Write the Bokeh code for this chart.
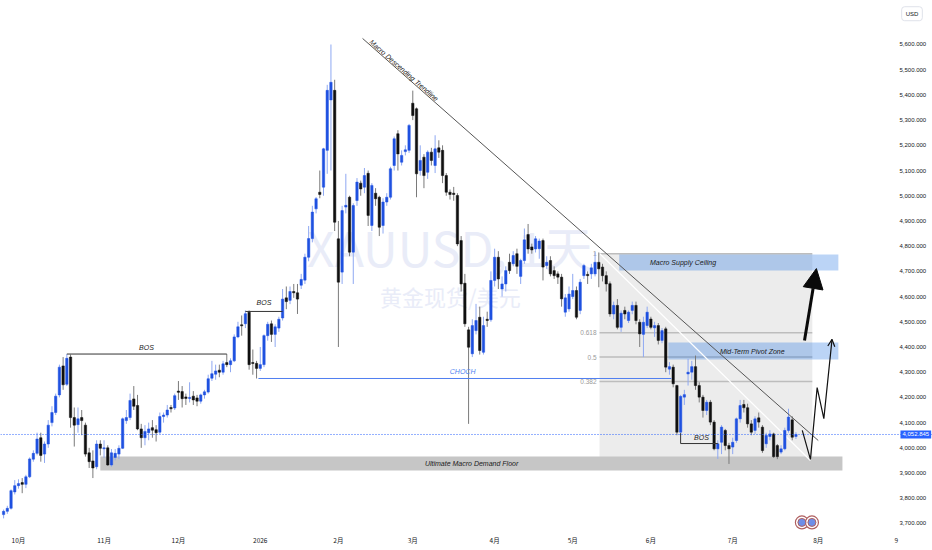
from bokeh.plotting import figure
from bokeh.models import Range1d, FixedTicker, NumeralTickFormatter, Span, Label, Arrow, NormalHead, OpenHead, ColumnDataSource
from bokeh.core.properties import value
from bokeh.embed import file_html
from bokeh.resources import INLINE

# ---------------- data (daily XAUUSD candles, trading-day index) ----------------
opens = [3735,3748,3760,3825,3850,3862,3855,3885,3955,3978,4040,3975,4015,4100,4140,4210,4325,4252,4360,4120,
         4092,4120,4090,3980,3948,3925,4015,3996,4000,3932,3962,3975,3998,4108,4120,4194,4168,4075,4040,4060,
         4080,4072,4062,4124,4130,4160,4158,4225,4223,4202,4196,4205,4198,4185,4210,4221,4276,4292,4308,4300,
         4338,4330,4345,4440,4488,4492,4538,4338,4335,4315,4330,4445,4492,4450,4475,4515,4595,4585,4620,4615,
         4645,4665,4756,4830,4948,5014,5034,5180,5380,5418,4829,4697,4955,4994,4776,4981,5050,5034,5089,4882,
         5010,4994,4882,4975,4994,5120,5246,5133,5175,5180,5367,5345,5100,5153,5093,5173,5120,5190,5180,5080,
         5014,5010,5001,4822,4653,4468,4373,4465,4518,4379,4510,4508,4664,4756,4630,4650,4736,4730,4770,4680,
         4743,4846,4797,4789,4790,4822,4723,4743,4703,4690,4677,4538,4551,4600,4624,4545,4683,4688,4690,4690,
         4736,4717,4683,4651,4531,4565,4478,4545,4505,4545,4565,4498,4450,4485,4511,4476,4485,4426,4472,4312,
         4320,4247,4062,4201,4293,4300,4322,4247,4201,4148,4181,4102,3996,4022,4069,4009,4003,4029,4115,4172,
         4159,4095,4069,4119,4082,4016,4045,4055,4009,3983,3996,4069,4111,4045]
highs = [3755,3770,3835,3872,3875,3880,3893,3962,3990,4060,4060,4025,4110,4165,4215,4330,4360,4372,4370,4160,
         4160,4150,4100,4000,3990,4030,4030,4030,4010,3995,3995,4010,4120,4150,4215,4245,4210,4095,4090,4100,
         4110,4090,4140,4140,4170,4170,4215,4265,4245,4215,4260,4225,4210,4215,4230,4290,4345,4330,4330,4345,
         4372,4355,4450,4500,4525,4545,4545,4390,4345,4400,4450,4500,4505,4490,4520,4630,4640,4640,4650,4650,
         4690,4770,4880,4960,4995,5100,5190,5440,5600,5460,4900,4960,5087,5000,4970,5070,5060,5110,5100,5050,
         5030,5000,4990,5010,5115,5235,5260,5180,5200,5285,5417,5350,5200,5165,5180,5190,5240,5220,5200,5090,
         5025,5035,5010,4840,4690,4480,4510,4571,4560,4520,4540,4700,4790,4780,4680,4720,4770,4780,4790,4750,
         4870,4888,4810,4840,4830,4830,4760,4760,4720,4700,4690,4610,4640,4690,4640,4670,4730,4700,4730,4776,
         4775,4730,4700,4660,4580,4590,4545,4560,4545,4580,4580,4510,4520,4560,4520,4500,4495,4475,4480,4340,
         4330,4250,4210,4230,4353,4345,4366,4260,4210,4190,4190,4110,4030,4090,4075,4020,4040,4120,4190,4190,
         4175,4110,4125,4140,4090,4060,4070,4060,4015,4010,4080,4155,4125,4062]
lows = [3720,3738,3755,3815,3838,3820,3840,3880,3945,3970,3945,3940,4000,4085,4130,4200,4230,4245,4080,4005,
        4060,4050,3965,3920,3880,3915,3970,3960,3928,3925,3950,3955,3995,4095,4110,4150,4070,4000,4010,4030,
        4040,4025,4055,4100,4120,4140,4150,4190,4160,4170,4180,4170,4165,4175,4195,4215,4265,4270,4280,4290,
        4320,4300,4340,4435,4445,4475,4310,4290,4275,4305,4320,4425,4420,4400,4460,4505,4550,4570,4595,4531,
        4630,4650,4740,4815,4930,4990,5000,5087,5100,4860,4400,4650,4930,4760,4650,4960,5000,5010,4880,4860,
        4960,4840,4850,4960,4985,5100,5100,5120,5160,5170,5300,4994,5080,5030,5067,5120,5090,5150,5050,5000,
        4985,4980,4800,4620,4480,4095,4360,4450,4370,4370,4480,4500,4640,4630,4600,4620,4690,4720,4690,4650,
        4730,4770,4770,4775,4750,4664,4710,4680,4670,4650,4560,4520,4540,4590,4510,4530,4670,4650,4670,4680,
        4637,4660,4620,4520,4510,4470,4460,4510,4495,4530,4490,4400,4360,4475,4470,4440,4410,4415,4300,4290,
        4240,4050,4050,4170,4247,4270,4230,4180,4120,4130,4090,3990,3956,3975,3990,3936,3975,4020,4100,4140,
        4080,4050,4055,4080,3980,4000,4030,3960,3955,3975,3990,4060,4030,4035]
closes = [3748,3760,3830,3850,3858,3855,3885,3956,3978,4035,3970,4015,4090,4140,4205,4320,4250,4355,4120,4090,
          4115,4108,3975,3945,3920,4015,3998,4000,3932,3980,3978,3998,4115,4120,4188,4165,4075,4040,4065,4075,
          4070,4060,4124,4130,4150,4155,4207,4220,4195,4196,4200,4190,4185,4210,4222,4274,4294,4305,4300,4333,
          4330,4345,4440,4480,4484,4532,4330,4335,4315,4330,4445,4490,4450,4480,4510,4590,4580,4620,4615,4590,
          4668,4756,4830,4935,4988,5005,5186,5418,5450,4895,4657,4941,4962,4776,4961,5054,5027,5080,4922,5041,
          4988,4875,4975,4994,5107,5226,5166,5160,5182,5279,5318,5087,5140,5080,5173,5140,5186,5173,5080,5014,
          5005,5005,4809,4650,4492,4399,4485,4505,4386,4485,4505,4664,4756,4670,4650,4703,4703,4763,4720,4743,
          4825,4789,4785,4829,4820,4717,4736,4690,4683,4677,4591,4595,4610,4624,4518,4657,4723,4683,4714,4736,
          4710,4683,4650,4531,4565,4478,4534,4531,4538,4565,4505,4452,4498,4538,4478,4485,4426,4465,4320,4322,
          4254,4062,4204,4211,4300,4322,4247,4201,4148,4181,4102,3996,4016,4082,4009,3996,4022,4115,4168,4159,
          4095,4062,4115,4102,3989,4049,4055,3965,3965,3996,4069,4122,4042,4053]

month_ticks = [4, 27, 47, 69, 90, 110, 132, 153, 174, 196, 219, 240]
month_labels = ["10月", "11月", "12月", "2026", "2月", "3月", "4月", "5月", "6月", "7月", "8月", "9"]
price_ticks = list(range(3700, 5601, 100))
last_price = 4052.845

# annotation levels (index, price)
trend_x = [96.5, 219.0]
trend_y = [5624, 4029]
inner_x = [160.2, 216.9]
inner_y = [4771, 3950]
fib_x = (160.2, 217.4)
fib_high, fib_low = 4770, 3950
fib_ratios = [1, 0.618, 0.5, 0.382, 0]
fib_names = ["1", "0.618", "0.5", "0.382", "0"]
supply_zone = (165.5, 224.4, 4703, 4767)
pivot_zone = (178.7, 224.4, 4350, 4418)
demand_zone = (26.0, 225.5, 3910, 3966)
bos1 = ([17, 60], [4372, 4372], (38.4, 4398))
bos2 = ([65, 75], [4541, 4541], (70.0, 4577))
bos3 = ([182, 182, 192], [4058, 4017, 4017], (187.6, 4041))
choch = ([68.5, 179.5], [4275, 4275], (123.4, 4303))
proj_x = [214.7, 216.9, 218.7, 220.5, 222.7]
proj_y = [4069, 3954, 4239, 4116, 4430]
big_arrow = (215.3, 4426, 218.5, 4711)

# ---------------- figure ----------------
p = figure(width=932, height=550, output_backend="svg", toolbar_location=None,
           x_range=Range1d(-0.833, 249.71), y_range=Range1d(3672, 5774.5),
           y_axis_location="right", min_border_left=0, min_border_top=0,
           min_border_right=0, min_border_bottom=20)
p.grid.visible = False
p.outline_line_color = None
p.background_fill_color = "white"

# watermark
p.text(x=[119.9], y=[4799], text=["XAUUSD, 1天"], text_font=value("Noto Sans CJK SC"),
       text_font_size="48px", text_color="#e9ecf8", text_align="center", text_baseline="middle", level="underlay")
p.text(x=[120.1], y=[4604], text=["黄金现货/美元"], text_font=value("Noto Sans CJK SC"),
       text_font_size="22px", text_color="#e9ecf8", text_align="center", text_baseline="middle", level="underlay")

# fib box
p.quad(left=[fib_x[0]], right=[fib_x[1]], bottom=[fib_low], top=[fib_high],
       fill_color="#ececec", line_color=None)
fib_levels = [fib_low + r * (fib_high - fib_low) for r in fib_ratios]
p.segment(x0=[fib_x[0]] * 5, x1=[fib_x[1]] * 5, y0=fib_levels, y1=fib_levels,
          line_color="#bdbdbd", line_width=1.5)
p.text(x=[fib_x[0] - 0.8] * 5, y=fib_levels, text=fib_names, text_font=value("Liberation Sans"),
       text_font_size="6.5px", text_color="#9a9a9a", text_align="right", text_baseline="middle")

# zones
p.quad(left=[demand_zone[0]], right=[demand_zone[1]], bottom=[demand_zone[2]], top=[demand_zone[3]],
       fill_color="#c6c6c6", line_color=None)
for z in (supply_zone, pivot_zone):
    p.quad(left=[z[0]], right=[z[1]], bottom=[z[2]], top=[z[3]],
           fill_color="#1e6fe0", fill_alpha=0.3, line_color=None)

p.line(inner_x, inner_y, line_color="white", line_width=1.3)

# candles
n = len(closes)
idx = list(range(n))
up = [c >= o for o, c in zip(opens, closes)]
tops, bots = [], []
for o, c in zip(opens, closes):
    t, b = max(o, c), min(o, c)
    if t - b < 4:
        m = (t + b) / 2
        t, b = m + 2, m - 2
    tops.append(t)
    bots.append(b)
src = ColumnDataSource(dict(
    x=idx, h=highs, l=lows, t=tops, b=bots,
    body=["#1f51e0" if u else "#101010" for u in up],
    wick=["#8ea8f2" if u else "#7a7a7a" for u in up]))
p.segment(x0="x", x1="x", y0="h", y1="l", line_color="wick", line_width=1, source=src)
p.vbar(x="x", width=0.64, top="t", bottom="b", fill_color="body", line_color="body", line_width=0.5, source=src)

# lines
p.line(trend_x, trend_y, line_color="#555555", line_width=1)
for seg in (bos1, bos2, bos3):
    p.line(seg[0], seg[1], line_color="#333333", line_width=1)
p.line(choch[0], choch[1], line_color="#4f7ff0", line_width=1)

p.line(proj_x, proj_y, line_color="#111111", line_width=1.2)
p.add_layout(Arrow(end=OpenHead(size=7, line_width=1.2, line_color="#111111"),
                   x_start=proj_x[-2], y_start=proj_y[-2], x_end=proj_x[-1], y_end=proj_y[-1],
                   line_width=0, line_alpha=0))
p.add_layout(Arrow(end=NormalHead(size=20, fill_color="#0a0a0a", line_color="#0a0a0a"),
                   x_start=big_arrow[0], y_start=big_arrow[1], x_end=big_arrow[2], y_end=big_arrow[3],
                   line_width=3, line_color="#0a0a0a"))

p.add_layout(Span(location=last_price, dimension="width", line_color="#2962ff",
                  line_dash="1 2", line_width=1))

# texts
ital = dict(text_font=value("Liberation Sans"), text_font_style="italic", text_font_size="7px",
            text_color="#1a1a1a", text_align="center", text_baseline="middle")
p.text(x=[(supply_zone[0] + supply_zone[1]) / 2 - 12.3], y=[(supply_zone[2] + supply_zone[3]) / 2],
       text=["Macro Supply Ceiling"], **ital)
p.text(x=[(pivot_zone[0] + pivot_zone[1]) / 2 - 0.3], y=[(pivot_zone[2] + pivot_zone[3]) / 2],
       text=["Mid-Term Pivot Zone"], **ital)
p.text(x=[125.8], y=[(demand_zone[2] + demand_zone[3]) / 2], text=["Ultimate Macro Demand Floor"], **ital)
for seg in (bos1, bos2, bos3):
    p.text(x=[seg[2][0]], y=[seg[2][1]], text=["BOS"], **ital)
ch = dict(ital)
ch["text_color"] = "#4f7ff0"
p.text(x=[choch[2][0]], y=[choch[2][1]], text=["CHOCH"], **ch)
tr = dict(ital)
tr["text_baseline"] = "bottom"
p.text(x=[107.0], y=[5487], text=["Macro Descending Trendline"], angle=-0.722, **tr)

# logo
p.scatter(x=[214.6, 217.3], y=[3704, 3704], size=13, fill_color="white", line_color="#b06060", line_width=1.2)
p.scatter(x=[214.6, 217.3], y=[3704, 3704], size=8, fill_color="#6d8ee8", line_color="#b06060", line_width=1)

# axes
p.yaxis.ticker = FixedTicker(ticks=price_ticks)
p.yaxis.formatter = NumeralTickFormatter(format="0,0.000")
p.yaxis.major_label_text_font = "Liberation Sans"
p.yaxis.major_label_text_font_size = "6px"
p.yaxis.major_label_text_color = "#131722"
p.yaxis.major_label_standoff = -33
p.yaxis.major_tick_out = 0
p.yaxis.major_tick_in = 0
p.yaxis.axis_line_color = None
p.yaxis.major_tick_line_color = None
p.yaxis.minor_tick_line_color = None

p.xaxis.ticker = FixedTicker(ticks=month_ticks)
p.xaxis.major_label_overrides = {t: l for t, l in zip(month_ticks, month_labels)}
p.xaxis.major_label_text_font = "Noto Sans CJK SC"
p.xaxis.major_label_text_font_size = "6.5px"
p.xaxis.major_label_text_color = "#131722"
p.xaxis.major_label_standoff = 4
p.xaxis.major_tick_out = 0
p.xaxis.major_tick_in = 0
p.xaxis.axis_line_color = None
p.xaxis.major_tick_line_color = None
p.xaxis.minor_tick_line_color = None

p.add_layout(Label(x=241.1, y=last_price, text="4,052.845", text_font="Liberation Sans",
                   text_font_size="6px", text_color="white", background_fill_color="#2962ff",
                   text_align="left", text_baseline="middle", padding=2))
p.add_layout(Label(x=244.2, y=5722, text="USD", text_font="Liberation Sans",
                   text_font_size="6px", text_color="#131722", border_line_color="#dfe2ea",
                   background_fill_color="white", text_align="center", text_baseline="middle",
                   padding=4, border_radius=3))

open("out.html", "w").write(file_html(p, INLINE))
